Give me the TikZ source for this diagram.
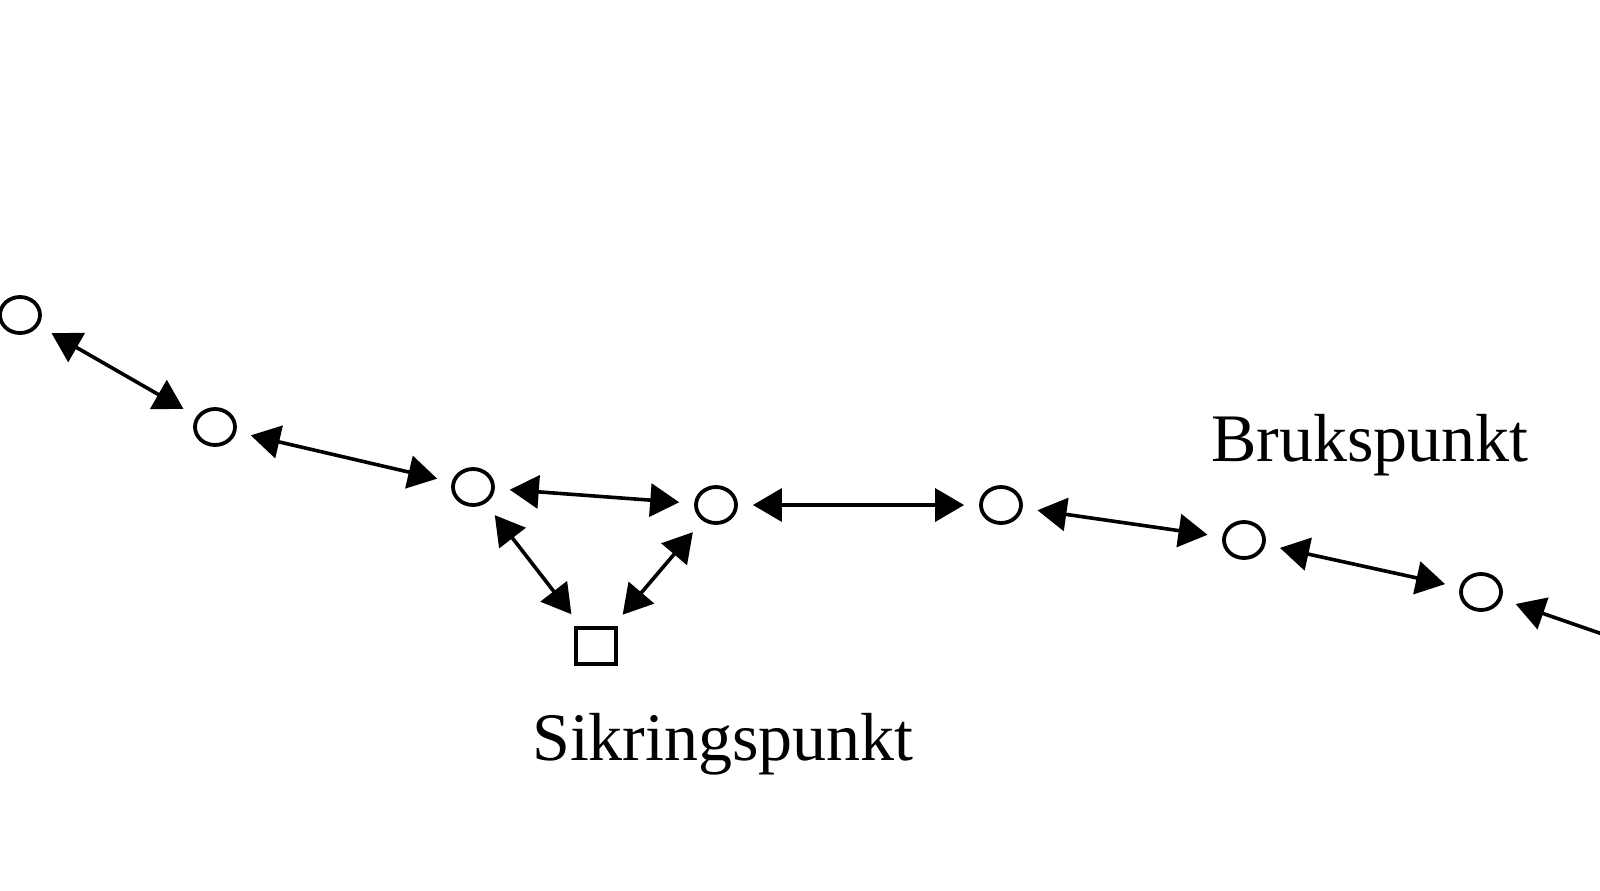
\documentclass[tikz,border=0pt]{standalone}
\usepackage{fontspec}
\setmainfont{Liberation Serif}
\usetikzlibrary{arrows.meta,shapes.geometric}
\begin{document}
\begin{tikzpicture}[x=0.5pt,y=-0.5pt,
  pt/.style={draw=black,line width=1.9pt,ellipse,inner sep=0pt,minimum width=20pt,minimum height=18pt},
  sq/.style={draw=black,line width=1.9pt,rectangle,inner sep=0pt,minimum width=20pt,minimum height=18pt},
  arr/.style={line width=1.8pt,{Triangle[length=14.5pt,width=16.5pt]}-{Triangle[length=14.5pt,width=16.5pt]},shorten <=7.5pt,shorten >=7.5pt},
  lbl/.style={font=\fontsize{34}{40}\selectfont,inner sep=0pt,anchor=base}]
\clip (0,0) rectangle (1600,890);
\fill[white] (0,0) rectangle (1600,890);
\node[pt] (c1) at (20,315) {};
\node[pt] (c2) at (215,427) {};
\node[pt] (c3) at (473,487) {};
\node[pt] (c4) at (716,505) {};
\node[pt] (c5) at (1001,505) {};
\node[pt] (c6) at (1244,540) {};
\node[pt] (c7) at (1481,592) {};
\node[sq] (s) at (596,646) {};
\coordinate (off) at (1660,654);
\draw[arr] (c1) -- (c2);
\draw[arr] (c2) -- (c3);
\draw[arr] (c3) -- (c4);
\draw[arr] (c3) -- (s);
\draw[arr] (c4) -- (s);
\draw[arr] (c4) -- (c5);
\draw[arr] (c5) -- (c6);
\draw[arr] (c6) -- (c7);
\draw[line width=1.8pt,{Triangle[length=14.5pt,width=16.5pt]}-,shorten <=7.5pt] (c7) -- (off);
\node[lbl] (bruk) at (1370,461) {Brukspunkt};
\node[lbl] (sikr) at (723,760) {Sikringspunkt};
\end{tikzpicture}
\end{document}
